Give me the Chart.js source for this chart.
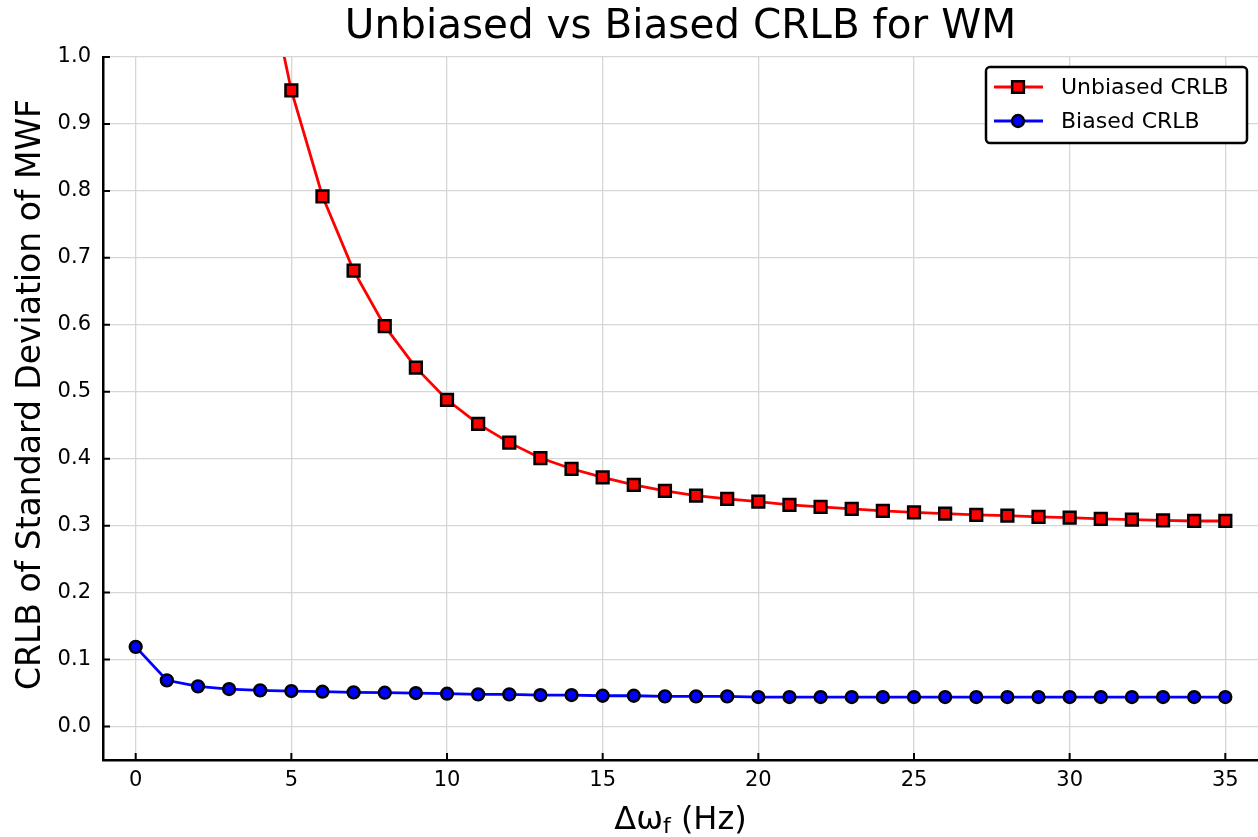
<!DOCTYPE html>
<html>
<head>
<meta charset="utf-8">
<script src="https://cdn.jsdelivr.net/npm/chart.js@4"></script>
<style>
  body { margin: 0; background: #fff; }
  #wrap { width: 1258px; height: 837px; }
</style>
</head>
<body>
<div id="wrap"><canvas id="graph"></canvas></div>
<script>
// data
const freqs = [0, 1, 2, 3, 4, 5, 6, 7, 8, 9, 10, 11, 12, 13, 14, 15, 16, 17,
    18, 19, 20, 21, 22, 23, 24, 25, 26, 27, 28, 29, 30, 31, 32, 33, 34, 35];
const unbiased = [null, 4.8, 2.4, 1.6, 1.17, 0.950, 0.792, 0.681, 0.598, 0.536, 0.488,
    0.452, 0.424, 0.401, 0.385, 0.372, 0.361, 0.352, 0.345, 0.340, 0.336,
    0.331, 0.328, 0.325, 0.322, 0.320, 0.318, 0.316, 0.315, 0.313, 0.312,
    0.310, 0.309, 0.308, 0.307, 0.307];
const biased = [0.119, 0.069, 0.060, 0.056, 0.054, 0.053, 0.052, 0.051, 0.0505, 0.050, 0.049,
    0.048, 0.048, 0.047, 0.047, 0.046, 0.046, 0.045, 0.045, 0.045, 0.044,
    0.044, 0.044, 0.044, 0.044, 0.044, 0.044, 0.044, 0.044, 0.044, 0.044,
    0.044, 0.044, 0.044, 0.044, 0.044];
const seriesNames = ['Unbiased CRLB', 'Biased CRLB'];
const chartTitle = 'Unbiased vs Biased CRLB for WM';

const FONT = "'DejaVu Sans', sans-serif";

const toXY = vals => freqs.map((f, i) => ({ x: f, y: vals[i] }));

// short tick marks pointing into the plot, titles and the boxed legend
const extras = {
    id: 'extras',
    afterDraw(chart) {
        const c = chart.ctx;
        const a = chart.chartArea;
        const xs = chart.scales.x, ys = chart.scales.y;
        const midX = (a.left + a.right) / 2;
        c.save();
        c.strokeStyle = '#000';
        c.lineWidth = 2;
        c.beginPath();
        xs.ticks.forEach(t => {
            const px = xs.getPixelForValue(t.value);
            c.moveTo(px, a.bottom); c.lineTo(px, a.bottom - 7);
        });
        ys.ticks.forEach(t => {
            const py = ys.getPixelForValue(t.value);
            c.moveTo(a.left, py); c.lineTo(a.left + 7, py);
        });
        c.stroke();

        // main title, centred over the plot area
        c.fillStyle = '#000';
        c.textAlign = 'center';
        c.textBaseline = 'middle';
        c.font = '40.5px ' + FONT;
        c.fillText(chartTitle, midX, 27);

        // x title with subscript f
        c.textBaseline = 'alphabetic';
        const big = '32px ' + FONT, small = '22px ' + FONT;
        c.font = big;
        const w1 = c.measureText('\u0394\u03c9').width;
        const w3 = c.measureText(' (Hz)').width;
        c.font = small;
        const w2 = c.measureText('f').width;
        let x0 = midX - (w1 + w2 + w3) / 2;
        const base = 829;
        c.textAlign = 'left';
        c.font = big; c.fillText('\u0394\u03c9', x0, base);
        c.font = small; c.fillText('f', x0 + w1, base + 4);
        c.font = big; c.fillText(' (Hz)', x0 + w1 + w2, base);

        // y title
        c.save();
        c.translate(31, (a.top + a.bottom) / 2 - 14);
        c.rotate(-Math.PI / 2);
        c.textAlign = 'center';
        c.textBaseline = 'middle';
        c.font = '33px ' + FONT;
        c.fillText('CRLB of Standard Deviation of MWF', 0, 0);
        c.restore();

        // legend
        const bx = 986, by = 67, bw = 261, bh = 76;
        c.beginPath();
        c.roundRect(bx, by, bw, bh, 4);
        c.fillStyle = '#fff';
        c.fill();
        c.lineWidth = 2.5;
        c.strokeStyle = '#000';
        c.stroke();
        chart.data.datasets.forEach((ds, i) => {
            const yy = by + 20 + i * 34;
            c.strokeStyle = ds.borderColor;
            c.lineWidth = ds.borderWidth;
            c.beginPath();
            c.moveTo(bx + 8, yy); c.lineTo(bx + 57, yy);
            c.stroke();
            c.fillStyle = ds.pointBackgroundColor;
            c.strokeStyle = '#000';
            c.lineWidth = ds.pointBorderWidth;
            c.beginPath();
            if (ds.pointStyle === 'rect') {
                const s = ds.pointRadius * Math.SQRT1_2;
                c.rect(bx + 32 - s, yy - s, 2 * s, 2 * s);
            } else {
                c.arc(bx + 32, yy, ds.pointRadius, 0, Math.PI * 2);
            }
            c.fill(); c.stroke();
            c.fillStyle = '#000';
            c.font = '22px ' + FONT;
            c.textAlign = 'left';
            c.textBaseline = 'middle';
            c.fillText(seriesNames[i], bx + 75, yy + 1);
        });
        c.restore();
    }
};

const ctx = document.getElementById('graph').getContext('2d');
const crlbChart = new Chart(ctx, {
    type: 'line',
    data: {
        datasets: [{
            label: seriesNames[0],
            data: toXY(unbiased),
            borderColor: '#ff0000',
            borderWidth: 2.8,
            pointStyle: 'rect',
            pointRadius: 8.3,
            pointBackgroundColor: '#ff0000',
            pointBorderColor: '#000',
            pointBorderWidth: 2.5,
            tension: 0
        }, {
            label: seriesNames[1],
            data: toXY(biased),
            borderColor: '#0000ff',
            borderWidth: 2.8,
            pointStyle: 'circle',
            pointRadius: 5.9,
            pointBackgroundColor: '#0000ff',
            pointBorderColor: '#000',
            pointBorderWidth: 2.5,
            tension: 0
        }]
    },
    options: {
        responsive: true,
        maintainAspectRatio: false,
        animation: false,
        layout: { autoPadding: false, padding: { left: 0, right: 0, top: 57, bottom: 0 } },
        scales: {
            x: {
                type: 'linear',
                min: -1.05,
                max: 36.05,
                afterFit: s => { s.height = 77; s.paddingRight = 0; s.paddingLeft = 0; },
                ticks: {
                    stepSize: 5,
                    includeBounds: false,
                    padding: 8,
                    color: '#000',
                    font: { family: FONT, size: 21 }
                },
                grid: { color: '#d6d6d6', lineWidth: 1.3, drawTicks: false },
                border: { color: '#000', width: 2.5 }
            },
            y: {
                min: -0.05,
                max: 1.0,
                afterFit: s => { s.width = 103; s.paddingTop = 0; s.paddingBottom = 0; },
                ticks: {
                    stepSize: 0.1,
                    includeBounds: false,
                    padding: 12,
                    color: '#000',
                    font: { family: FONT, size: 21 },
                    callback: v => v.toFixed(1)
                },
                grid: { color: '#d6d6d6', lineWidth: 1.3, drawTicks: false },
                border: { color: '#000', width: 2.5 }
            }
        },
        plugins: {
            legend: { display: false },
            tooltip: { enabled: false },
            title: { display: false }
        }
    },
    plugins: [extras]
});
</script>
</body>
</html>
